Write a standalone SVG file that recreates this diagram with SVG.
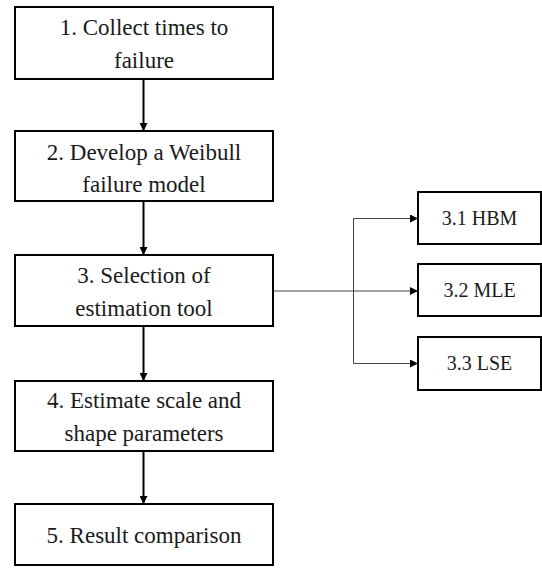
<svg xmlns="http://www.w3.org/2000/svg" width="542" height="574" viewBox="0 0 542 574">
<style>
.box{fill:#fff;stroke:#000;stroke-width:2}
.t{font-family:"Liberation Serif",serif;font-size:23px;fill:#1a1a1a;text-anchor:middle}
.s{font-family:"Liberation Serif",serif;font-size:20px;fill:#1a1a1a;text-anchor:middle}
.main{stroke:#000;stroke-width:2;fill:none}
.thin{stroke:#444;stroke-width:1;fill:none}
</style>
<defs>
<marker id="ah" markerWidth="8" markerHeight="8" refX="8" refY="4" orient="auto" markerUnits="userSpaceOnUse">
<path d="M0,0 L8,4 L0,8 Z" fill="#000"/>
</marker>
</defs>
<rect width="542" height="574" fill="#fff"/>
<g id="connectors">
<line class="main" x1="143.5" y1="79" x2="143.5" y2="131" marker-end="url(#ah)"/>
<line class="main" x1="143.5" y1="201" x2="143.5" y2="255" marker-end="url(#ah)"/>
<line class="main" x1="143.5" y1="326" x2="143.5" y2="381" marker-end="url(#ah)"/>
<line class="main" x1="143.5" y1="451" x2="143.5" y2="504" marker-end="url(#ah)"/>
<line class="thin" x1="273" y1="291" x2="418" y2="291" marker-end="url(#ah)"/>
<polyline class="thin" points="353.5,363 353.5,218.5 418,218.5" marker-end="url(#ah)"/>
<polyline class="thin" points="353.5,291 353.5,363.5 418,363.5" marker-end="url(#ah)"/>
</g>
<g id="n1">
<rect class="box" x="15" y="7" width="258" height="72"/>
<text class="t" x="144" y="35">1. Collect times to</text>
<text class="t" x="144" y="68">failure</text>
</g>
<g id="n2">
<rect class="box" x="15" y="131" width="258" height="70"/>
<text class="t" x="144" y="160">2. Develop a Weibull</text>
<text class="t" x="144" y="192">failure model</text>
</g>
<g id="n3">
<rect class="box" x="15" y="255" width="258" height="71"/>
<text class="t" x="144" y="283">3. Selection of</text>
<text class="t" x="144" y="316">estimation tool</text>
</g>
<g id="n4">
<rect class="box" x="15" y="381" width="258" height="70"/>
<text class="t" x="144" y="408">4. Estimate scale and</text>
<text class="t" x="144" y="441">shape parameters</text>
</g>
<g id="n5">
<rect class="box" x="15" y="504" width="258" height="61"/>
<text class="t" x="144" y="543">5. Result comparison</text>
</g>
<g id="n31">
<rect class="box" x="418" y="192" width="123" height="52"/>
<text class="s" x="479.5" y="225">3.1 HBM</text>
</g>
<g id="n32">
<rect class="box" x="418" y="264" width="123" height="52"/>
<text class="s" x="479.5" y="297">3.2 MLE</text>
</g>
<g id="n33">
<rect class="box" x="418" y="337" width="123" height="53"/>
<text class="s" x="479.5" y="370">3.3 LSE</text>
</g>
</svg>
